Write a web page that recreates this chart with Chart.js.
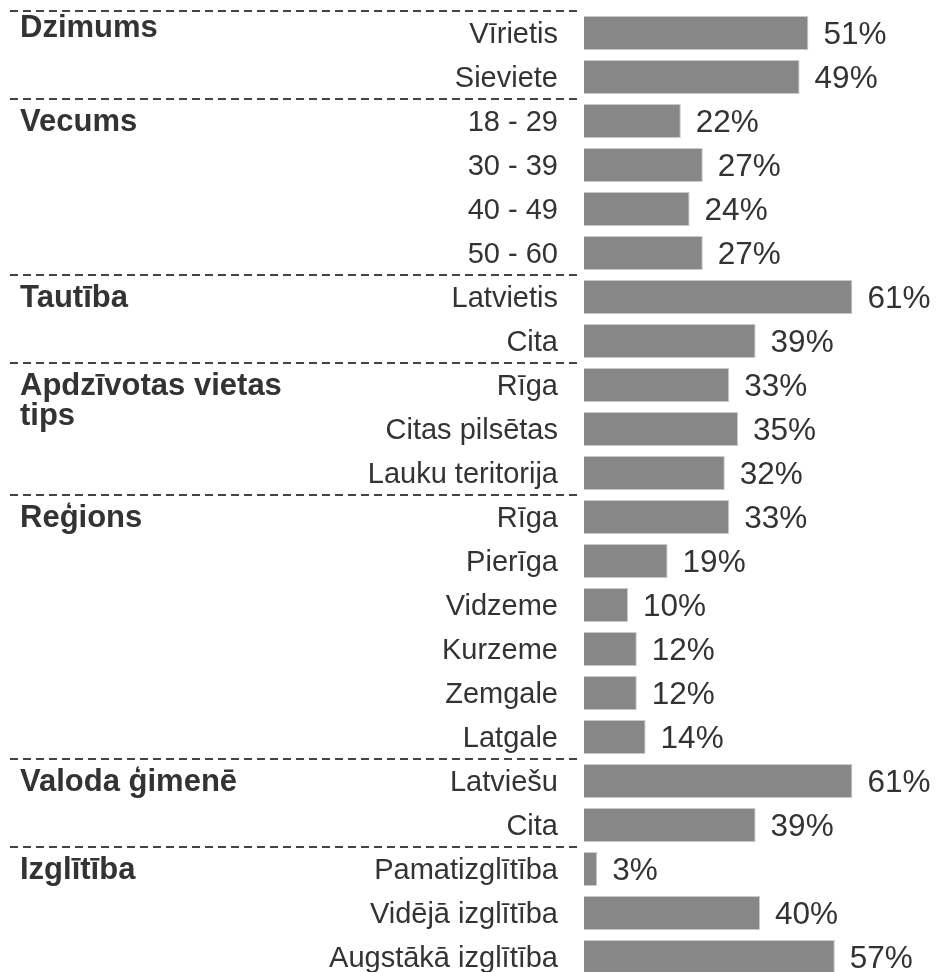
<!DOCTYPE html>
<html>
<head>
<meta charset="utf-8">
<script src="https://cdn.jsdelivr.net/npm/chart.js@4.4.1/dist/chart.umd.min.js"></script>
<style>
    html, body { margin: 0; padding: 0; background: #fff; overflow: hidden; }
</style>
</head>
<body>
<canvas id="profileChart" width="938" height="982"></canvas>
<script>
// categories and values
const categories = [
    "Vīrietis", "Sieviete",
    "18 - 29", "30 - 39", "40 - 49", "50 - 60",
    "Latvietis", "Cita",
    "Rīga", "Citas pilsētas", "Lauku teritorija",
    "Rīga", "Pierīga", "Vidzeme", "Kurzeme", "Zemgale", "Latgale",
    "Latviešu", "Cita",
    "Pamatizglītība", "Vidējā izglītība", "Augstākā izglītība"
];
const shares = [51, 49, 22, 27, 24, 27, 61, 39, 33, 35, 32, 33, 19, 10, 12, 12, 14, 61, 39, 3, 40, 57];

// group headings and how many rows each one covers
const groupNames = [["Dzimums"], ["Vecums"], ["Tautība"], ["Apdzīvotas vietas", "tips"], ["Reģions"], ["Valoda ģimenē"], ["Izglītība"]];
const groupSizes = [2, 4, 2, 3, 6, 2, 3];

const TEXT = "#333333";
const FONT = "'Liberation Sans', Arial, sans-serif";

// group headings, dashed separators and the % labels
const extrasPlugin = {
    id: "extras",
    afterDatasetsDraw(chart) {
        const ctx = chart.ctx;
        const y = chart.scales.y;
        const area = chart.chartArea;
        const band = y.getPixelForValue(1) - y.getPixelForValue(0);

        ctx.save();
        // dashed separators + headings
        let start = 0;
        groupNames.forEach((lines, g) => {
            const top = y.getPixelForValue(start) - band / 2;
            ctx.strokeStyle = "#444";
            ctx.lineWidth = 2;
            ctx.setLineDash([8, 5]);
            ctx.beginPath();
            ctx.moveTo(10, top);
            ctx.lineTo(area.left - 5, top);
            ctx.stroke();

            ctx.setLineDash([]);
            ctx.fillStyle = TEXT;
            ctx.font = "bold 31px " + FONT;
            ctx.textAlign = "left";
            ctx.textBaseline = "middle";
            const cy = y.getPixelForValue(start) + (g === 0 ? -5 : 1);
            lines.forEach((txt, i) => ctx.fillText(txt, 20, cy + i * 30));
            start += groupSizes[g];
        });

        // value labels
        const meta = chart.getDatasetMeta(0);
        ctx.font = "31.5px " + FONT;
        ctx.textAlign = "left";
        ctx.textBaseline = "middle";
        ctx.fillStyle = TEXT;
        meta.data.forEach((bar, i) => {
            ctx.fillText(shares[i] + "%", bar.x + 15, bar.y + 2);
        });
        ctx.restore();
    }
};

const ctx = document.getElementById("profileChart").getContext("2d");

new Chart(ctx, {
    type: "bar",
    data: {
        labels: categories,
        datasets: [{
            data: shares,
            backgroundColor: "#878787",
            borderColor: "#c9c9c9",
            borderWidth: 1,
            categoryPercentage: 1,
            barPercentage: 0.77
        }]
    },
    options: {
        indexAxis: "y",
        responsive: false,
        animation: false,
        layout: {
            padding: { top: 11, bottom: 3, left: 0, right: 2 }
        },
        plugins: {
            legend: { display: false },
            tooltip: { enabled: false }
        },
        scales: {
            x: {
                display: false,
                min: 0,
                max: 80
            },
            y: {
                grid: { display: false, drawTicks: false, tickLength: 0 },
                border: { display: false },
                ticks: {
                    color: TEXT,
                    padding: 26,
                    labelOffset: 2,
                    font: { family: FONT, size: 29 },
                    autoSkip: false
                },
                afterFit: function (scale) {
                    scale.width = 584; // bars start here
                    scale.paddingTop = 0;
                    scale.paddingBottom = 0;
                }
            }
        }
    },
    plugins: [extrasPlugin]
});
</script>
</body>
</html>
